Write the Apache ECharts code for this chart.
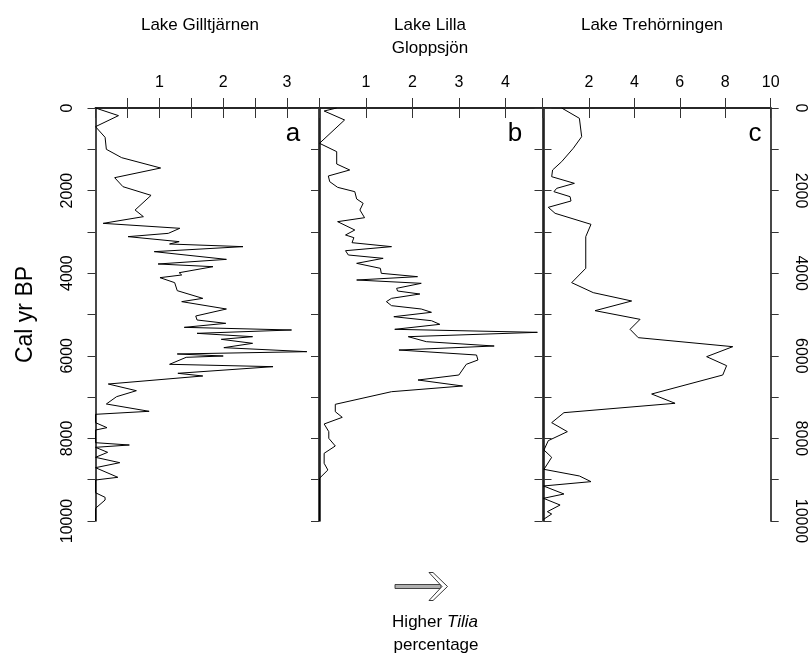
<!DOCTYPE html>
<html>
<head>
<meta charset="utf-8">
<script src="https://cdn.jsdelivr.net/npm/echarts@6/dist/echarts.min.js"></script>
<style>html,body{margin:0;padding:0;background:#fff}#c{width:812px;height:660px}</style>
</head>
<body>
<div id="c"></div>
<script>
// ---- data (age in cal yr BP, Tilia percentage) ----
var gillAge = [0,185,452,710,1000,1203,1453,1687,1905,2115,2470,2631,2793,2913,3035,3115,3236,3293,3357,3478,3665,3777,3842,3988,4043,4108,4229,4423,4609,4689,4867,5036,5133,5214,5311,5375,5456,5537,5601,5698,5803,5900,5956,6005,6037,6206,6263,6424,6489,6683,6845,6990,7167,7344,7417,7619,7740,7797,8104,8160,8216,8337,8458,8588,8709,8942,9007,9315,9427,9492,9693,10000];
var gillVal = [0,0.36,0,0.15,0.17,0.41,1.02,0.30,0.43,0.87,0.62,0.75,0.12,1.32,1.14,0.51,1.31,1.16,2.31,0.92,2.05,0.98,1.84,1.31,1.35,1.01,1.24,1.28,1.68,1.35,2.05,1.57,1.59,2.04,1.39,3.07,1.59,2.46,1.97,2.46,2.01,3.31,1.28,2.00,1.42,1.16,2.78,1.29,1.68,0.20,0.64,0.33,0.17,0.84,0,0,0.18,0,0,0.53,0,0.19,0,0.38,0,0.35,0,0,0.15,0.15,0,0];

var lillaAge = [0,73,290,855,900,1057,1356,1501,1646,1784,1921,2026,2203,2308,2470,2656,2752,2954,3075,3140,3261,3357,3455,3559,3640,3761,3882,4003,4084,4165,4245,4366,4431,4504,4609,4689,4786,4867,4947,5053,5150,5238,5359,5432,5537,5658,5763,5860,5981,6102,6206,6465,6586,6731,6869,7175,7353,7490,7651,7837,7998,8184,8361,8603,8765,8966,10000];
var lillaVal = [0.37,0.10,0.54,0,0,0.37,0.37,0.65,0.19,0.22,0.39,0.76,0.80,0.94,0.87,0.97,0.39,0.76,0.56,0.74,0.70,1.55,0.56,0.62,1.37,0.80,1.31,1.33,2.11,0.80,2.19,1.66,1.68,2.16,1.55,1.44,1.55,2.19,2.41,1.60,2.41,2.59,1.62,4.69,1.91,2.30,3.76,1.71,3.38,3.41,3.16,3.00,2.12,3.08,1.55,0.34,0.34,0.49,0.10,0.20,0.20,0.34,0.10,0.10,0.18,0,0];

var treAge = [0,250,694,976,1299,1501,1663,1824,1945,2026,2147,2252,2405,2550,2817,3115,3882,4229,4471,4673,4907,5117,5359,5561,5779,6021,6239,6465,6925,7150,7377,7619,7837,8055,8281,8458,8749,8910,9047,9152,9346,9451,9613,9774,9831,9960];
var treVal = [0.80,1.58,1.68,1.31,0.80,0.40,0.36,1.36,0.58,0.46,1.17,1.21,0.21,0.51,2.09,1.86,1.86,1.24,2.19,3.88,2.27,4.25,3.81,4.17,8.33,7.18,8.06,7.89,4.76,5.79,0.90,0.36,1.05,0.21,0.02,0.36,0.02,1.58,2.09,0,0.90,0,0.73,0.17,0.36,0];

var lakeNames = ['Lake Gilltjärnen', 'Lake Lilla\nGloppsjön', 'Lake Trehörningen'];
var panelLetters = ['a', 'b', 'c'];
var xMax = [3.5, 4.8, 10];
var xStep = [0.5, 1, 2];
var xLabelStep = [1, 1, 2];
var ageLabels = [0, 2000, 4000, 6000, 8000, 10000];

function pairs(a, v) { return a.map(function (t, i) { return [v[i], t]; }); }

var FONT = 'Arial, "Liberation Sans", Helvetica, sans-serif';
var grids = [
  {left: 95.5, top: 108, width: 223.5, height: 413},
  {left: 319.5, top: 108, width: 223, height: 413},
  {left: 543.5, top: 108, width: 227.2, height: 413}
];
var lineStyle = {color: '#1a1a1a', width: 1.6};
var tickStyle = {color: '#333', width: 1};

var xAxes = [], yAxes = [];
for (var i = 0; i < 3; i++) {
  (function (i) {
    xAxes.push({
      type: 'value', gridIndex: i, position: 'top', min: 0, max: xMax[i], interval: xStep[i],
      axisLine: {show: true, lineStyle: lineStyle},
      axisTick: {show: true, length: 10, lineStyle: tickStyle},
      splitLine: {show: false},
      axisLabel: {
        show: true, margin: 17, color: '#000', fontFamily: FONT, fontSize: 16,
        showMinLabel: false, showMaxLabel: true,
        formatter: function (v) {
          if (v <= 0) return '';
          var r = v / xLabelStep[i];
          if (Math.abs(r - Math.round(r)) > 1e-6) return '';
          return String(v);
        }
      }
    });
    xAxes.push({
      type: 'value', gridIndex: i, position: 'bottom', min: 0, max: xMax[i], interval: xStep[i],
      axisLine: {show: true, lineStyle: lineStyle},
      axisTick: {show: true, length: 10, lineStyle: tickStyle},
      splitLine: {show: false}, axisLabel: {show: false}
    });
    var ageFmt = function (v) { return ageLabels.indexOf(v) >= 0 ? String(v) : ''; };
    yAxes.push({
      type: 'value', gridIndex: i, position: 'left', inverse: true, min: 0, max: 10000, interval: 1000,
      axisLine: {show: true, onZero: false, lineStyle: lineStyle},
      axisTick: {show: i !== 1, inside: i !== 0, length: 8, lineStyle: tickStyle},
      splitLine: {show: false},
      axisLabel: {show: i === 0, rotate: 90, margin: 20, color: '#000', fontFamily: FONT, fontSize: 16, formatter: ageFmt},
      name: i === 0 ? 'Cal yr BP' : '', nameLocation: 'middle', nameGap: 58, nameRotate: 90,
      nameTextStyle: {color: '#000', fontFamily: FONT, fontSize: 23}
    });
    yAxes.push({
      type: 'value', gridIndex: i, position: 'right', inverse: true, min: 0, max: 10000, interval: 1000,
      axisLine: {show: true, onZero: false, lineStyle: lineStyle},
      axisTick: {show: true, inside: i !== 2, length: 8, lineStyle: tickStyle},
      splitLine: {show: false},
      axisLabel: {show: i === 2, rotate: -90, margin: 22, color: '#000', fontFamily: FONT, fontSize: 16, formatter: ageFmt}
    });
  })(i);
}

var seriesData = [pairs(gillAge, gillVal), pairs(lillaAge, lillaVal), pairs(treAge, treVal)];
var series = seriesData.map(function (d, i) {
  return {
    type: 'line', xAxisIndex: i * 2, yAxisIndex: i * 2, data: d,
    showSymbol: false, symbol: 'none', silent: true, animation: false,
    lineStyle: {color: '#000', width: 1}, clip: true
  };
});

var titleX = [200, 430, 652];
var letterX = [293, 515, 755];
var graphics = [];
for (var k = 0; k < 3; k++) {
  graphics.push({
    type: 'text', x: titleX[k], y: 14,
    style: {text: lakeNames[k], fill: '#000', font: '17px ' + FONT, textAlign: 'center', textVerticalAlign: 'top', lineHeight: 23}
  });
  graphics.push({
    type: 'text', x: letterX[k], y: 134,
    style: {text: panelLetters[k], fill: '#000', font: '26px ' + FONT, textAlign: 'center', textVerticalAlign: 'middle'}
  });
}
// arrow
graphics.push({
  type: 'polygon',
  shape: {points: [[395, 584.5], [441, 584.5], [441, 588.5], [395, 588.5]]},
  style: {fill: '#b0b0b0', stroke: '#333', lineWidth: 0.9}
});
graphics.push({
  type: 'polygon',
  shape: {points: [[429, 572.5], [433, 572.5], [447.5, 586.5], [433, 600.5], [429, 600.5], [442, 586.5]]},
  style: {fill: '#fff', stroke: '#222', lineWidth: 0.9}
});
graphics.push({
  type: 'text', x: 435, y: 622,
  style: {
    text: '{n|Higher }{i|Tilia}', textAlign: 'center', textVerticalAlign: 'middle',
    rich: {
      n: {fontFamily: FONT, fontSize: 17, fill: '#000', color: '#000'},
      i: {fontFamily: FONT, fontSize: 17, fontStyle: 'italic', fill: '#000', color: '#000'}
    }
  }
});
graphics.push({
  type: 'text', x: 436, y: 645,
  style: {text: 'percentage', fill: '#000', font: '17px ' + FONT, textAlign: 'center', textVerticalAlign: 'middle'}
});

var chart = echarts.init(document.getElementById('c'), null, {renderer: 'canvas'});
chart.setOption({
  animation: false,
  backgroundColor: '#fff',
  grid: grids,
  xAxis: xAxes,
  yAxis: yAxes,
  series: series,
  graphic: graphics
});
</script>
</body>
</html>
